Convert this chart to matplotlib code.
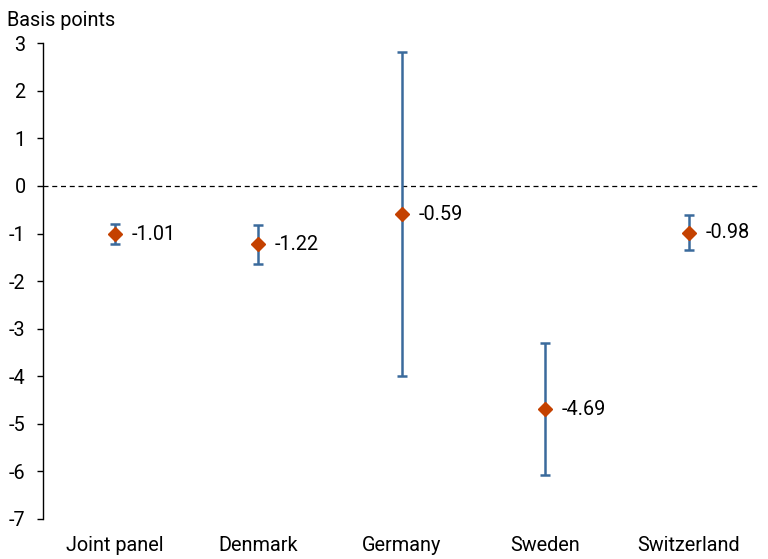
import matplotlib
matplotlib.use("Agg")
import matplotlib.pyplot as plt
import numpy as np

plt.rcParams["font.family"] = ["Roboto", "DejaVu Sans"]

categories = ["Joint panel", "Denmark", "Germany", "Sweden", "Switzerland"]
estimates = [-1.01, -1.22, -0.59, -4.69, -0.98]
upper = [-0.79, -0.82, 2.82, -3.31, -0.60]
lower = [-1.23, -1.63, -4.00, -6.07, -1.35]
y_ticks = [3, 2, 1, 0, -1, -2, -3, -4, -5, -6, -7]

blue = "#3A6A9C"
orange = "#C44100"
fs = 14.3

fig = plt.figure(figsize=(7.68, 5.59), dpi=100)
ax = fig.add_axes([0.056, 0.0716, 0.934, 0.851])

x = np.arange(len(categories))
est = np.array(estimates)
yerr = np.vstack((est - np.array(lower), np.array(upper) - est))

ax.axhline(0, color="black", linewidth=0.9, linestyle=(0, (4, 3)), zorder=1)
ax.errorbar(x, est, yerr=yerr, fmt="none", ecolor=blue, elinewidth=1.8,
            capsize=3.5, capthick=1.8, zorder=2)
ax.plot(x, est, "D", color=orange, markersize=7.5, linestyle="none", zorder=3)

for xi, v in zip(x, estimates):
    ax.annotate("%.2f" % v, (xi, v), xytext=(12, 0), textcoords="offset points",
                va="center", ha="left", fontsize=fs, color="black")

ax.set_xlim(-0.5, len(categories) - 0.5)
ax.set_ylim(-7, 3)
ax.set_yticks(y_ticks)
ax.set_yticklabels([str(t) for t in y_ticks], fontsize=fs)
ax.set_xticks(x)
ax.set_xticklabels(categories, fontsize=fs)
ax.tick_params(axis="x", length=0, pad=12)
ax.tick_params(axis="y", length=4.5, width=1, pad=8)

for side in ["top", "right", "bottom"]:
    ax.spines[side].set_visible(False)
ax.spines["left"].set_linewidth(1)

fig.text(0.009, 0.963, "Basis points", fontsize=fs, ha="left", va="center")

fig.savefig("out.png", dpi=100)
